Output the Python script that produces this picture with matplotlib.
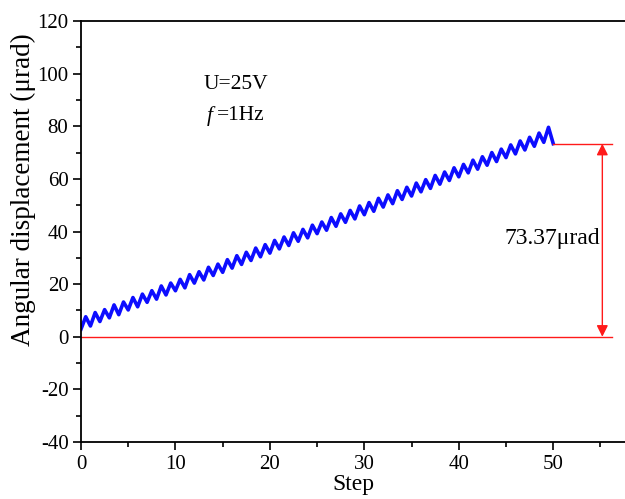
import matplotlib
matplotlib.use("Agg")
import matplotlib.pyplot as plt
from matplotlib.ticker import MultipleLocator

# per-step low (at step start) and peak (mid-step) values
steps = list(range(50))
lows = [2.9, 4.1, 5.8, 7.2, 8.4, 10.2, 11.4, 13.1, 14.3, 15.9,
        17.5, 18.6, 20.4, 21.6, 23.3, 24.5, 26.1, 27.5, 29.0, 30.4,
        31.8, 33.4, 34.7, 36.3, 37.6, 39.2, 40.5, 42.0, 43.5, 44.8,
        46.4, 47.7, 49.3, 50.6, 52.2, 53.5, 55.1, 56.4, 58.0, 59.4,
        60.8, 62.3, 63.7, 65.2, 66.6, 68.1, 69.5, 71.0, 72.4, 73.9]
peaks = [7.6, 9.2, 10.3, 12.1, 13.2, 14.9, 16.2, 17.5, 19.3, 20.4,
         21.8, 23.6, 24.7, 26.4, 27.6, 29.3, 30.8, 32.1, 33.7, 35.0,
         36.6, 37.9, 39.5, 40.8, 42.4, 43.6, 45.3, 46.7, 48.0, 49.7,
         51.0, 52.6, 53.9, 55.5, 56.8, 58.4, 59.7, 61.3, 62.6, 64.2,
         65.5, 67.1, 68.4, 70.0, 71.3, 72.9, 74.4, 75.8, 77.4, 79.6]
end_step = 50
end_value = 73.4
displacement = 73.37
x_ticks = [0, 10, 20, 30, 40, 50]
y_ticks = [-40, -20, 0, 20, 40, 60, 80, 100, 120]

xs, ys = [], []
for k, lo, hi in zip(steps, lows, peaks):
    xs += [k, k + 0.5]
    ys += [lo, hi]
xs.append(end_step)
ys.append(end_value)

plt.rcParams['font.family'] = ['Liberation Serif', 'DejaVu Serif']
plt.rcParams['axes.unicode_minus'] = False
fig = plt.figure(figsize=(6.25, 4.99), dpi=100)
ax = fig.add_axes([0.1296, 0.1142, 0.8704, 0.8437])

ax.plot(xs, ys, color='#0000ff', lw=2.6, alpha=0.95)

red = '#ff1a1a'
ax.plot([0, 56.2], [0, 0], color=red, lw=1.0)
ax.plot([end_step, 56.2], [displacement, displacement], color=red, lw=1.0)
ax.annotate('', xy=(55.2, displacement), xytext=(55.2, 0),
            arrowprops=dict(arrowstyle='<|-|>', color=red, lw=1.0,
                            mutation_scale=17, shrinkA=0, shrinkB=0))
ax.text(55.0, 37.5, '%.2f\u03bcrad' % displacement, ha='right', va='center',
        fontsize=17)

ax.text(16.4, 95.8, 'U=25V', ha='center', va='center', fontsize=15.5)
ax.text(13.3, 84.0, 'f', ha='left', va='center', fontsize=15.5,
        style='italic')
ax.text(14.4, 84.0, '=1Hz', ha='left', va='center', fontsize=15.5)

ax.set_xlim(0, 57.6)
ax.set_ylim(-40, 120)
ax.set_xticks(x_ticks)
ax.set_yticks(y_ticks)
ax.xaxis.set_minor_locator(MultipleLocator(5))
ax.yaxis.set_minor_locator(MultipleLocator(10))
ax.tick_params(which='both', direction='out', top=False, right=False,
               labelsize=15, width=1.2)
ax.tick_params(which='major', length=6, pad=3)
ax.tick_params(which='minor', length=3.5)
for s in ['left', 'bottom', 'top']:
    ax.spines[s].set_linewidth(1.3)
ax.spines['right'].set_visible(False)

ax.set_xlabel('Step', fontsize=17, labelpad=0)
ax.set_ylabel('Angular displacement (\u03bcrad)', fontsize=19.5)
ax.yaxis.set_label_coords(-0.083, 0.6)

fig.savefig('out.png', dpi=100)
